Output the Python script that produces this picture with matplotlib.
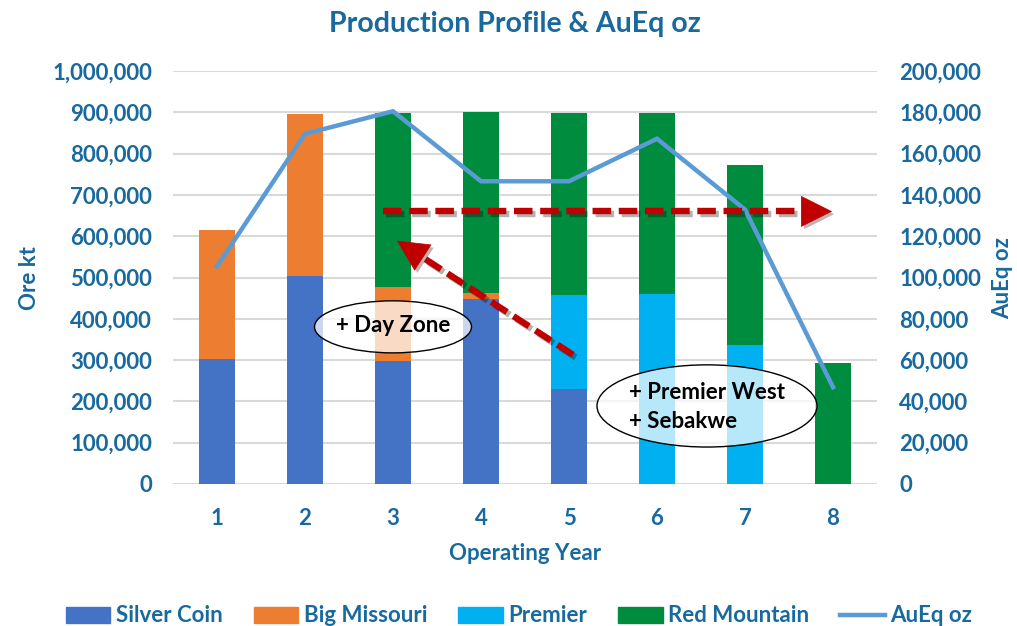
import matplotlib
matplotlib.use("Agg")
import matplotlib.pyplot as plt
from matplotlib.patches import Ellipse, Patch
from matplotlib.lines import Line2D
from matplotlib.ticker import FuncFormatter
import matplotlib.patheffects as pe
import numpy as np

plt.rcParams['font.family'] = ['Lato', 'DejaVu Sans']
plt.rcParams['font.weight'] = 'bold'

years = [1, 2, 3, 4, 5, 6, 7, 8]
silver_coin = [303000, 503000, 298000, 449000, 230000, 0, 0, 0]
big_missouri = [312000, 392000, 179000, 13000, 0, 0, 0, 0]
premier = [0, 0, 0, 0, 228000, 461000, 337000, 0]
red_mountain = [0, 0, 422000, 439000, 440000, 437000, 436000, 293000]
aueq_oz = [105400, 169600, 180500, 146600, 146600, 167200, 132900, 46900]

C_SC = '#4472C4'
C_BM = '#ED7D31'
C_PR = '#00B0F0'
C_RM = '#008C3E'
C_LINE = '#5B9BD5'
C_TXT = '#17699E'
C_RED = '#C00000'

fig = plt.figure(figsize=(10.17, 6.26), dpi=100)
ax = fig.add_axes([173/1017, 1-484/626, (877-173)/1017, (484-71)/626])
ax2 = ax.twinx()

w = 0.4
b1 = silver_coin
b2 = [a + b for a, b in zip(b1, big_missouri)]
b3 = [a + b for a, b in zip(b2, premier)]
ax.bar(years, silver_coin, w, color=C_SC, zorder=3)
ax.bar(years, big_missouri, w, bottom=b1, color=C_BM, zorder=3)
ax.bar(years, premier, w, bottom=b2, color=C_PR, zorder=3)
ax.bar(years, red_mountain, w, bottom=b3, color=C_RM, zorder=3)

ax.set_xlim(0.5, 8.5)
ax.set_ylim(0, 1000000)
ax.set_yticks(range(0, 1000001, 100000))
ax.yaxis.set_major_formatter(FuncFormatter(lambda v, p: f"{int(v):,}"))
ax.set_xticks(years)
ax.grid(axis='y', color='#D9D9D9', lw=1.5, zorder=0)
ax.set_axisbelow(True)
for s in ax.spines.values():
    s.set_visible(False)
for s in ax2.spines.values():
    s.set_visible(False)
ax.tick_params(axis='y', length=0, pad=15, labelsize=16, labelcolor=C_TXT)
ax.tick_params(axis='x', length=0, pad=17, labelsize=16, labelcolor=C_TXT)

ax2.plot(years, aueq_oz, color=C_LINE, lw=3.2, zorder=4, solid_joinstyle='miter')
ax2.set_ylim(0, 200000)
ax2.set_yticks(range(0, 200001, 20000))
ax2.yaxis.set_major_formatter(FuncFormatter(lambda v, p: f"{int(v):,}"))
ax2.tick_params(axis='y', length=0, pad=16, labelsize=16, labelcolor=C_TXT)


def dashed_arrow(start, tip, head_px=30):
    T = ax2.transData
    ps = T.transform(start)
    pt = T.transform(tip)
    d = pt - ps
    d = d / np.hypot(*d)
    pb = pt - d * head_px
    base = T.inverted().transform(pb)
    ax2.plot([start[0], base[0]], [start[1], base[1]], color=C_RED, lw=4.6,
             dashes=(2.9, 1.2), solid_capstyle='butt', dash_capstyle='butt',
             zorder=6,
             path_effects=[pe.SimpleLineShadow(offset=(2, -2), alpha=0.3),
                           pe.Normal()])
    a = ax2.annotate('', xy=tip, xytext=base,
                     arrowprops=dict(arrowstyle='-|>,head_length=21.6,head_width=10.8',
                                     mutation_scale=1, lw=0.5, color=C_RED,
                                     shrinkA=0, shrinkB=0), zorder=6)
    a.arrow_patch.set_path_effects([pe.SimplePatchShadow(offset=(2, -2), alpha=0.3),
                                    pe.Normal()])


dashed_arrow((2.886, 132000), (7.99, 132000))
dashed_arrow((5.045, 62600), (3.045, 117800))

e1 = Ellipse((3.0, 76100), 1.784, 25200, facecolor=(1, 1, 1, 0.72),
             edgecolor='black', lw=1.0, zorder=7)
ax2.add_patch(e1)
ax2.text(3.0, 76800, '+ Day Zone', ha='center', va='center', fontsize=16,
         color='black', zorder=8)
e2 = Ellipse((6.568, 37800), 2.5, 39800, facecolor=(1, 1, 1, 0.72),
             edgecolor='black', lw=1.0, zorder=7)
ax2.add_patch(e2)
ax2.text(5.68, 44300, '+ Premier West', ha='left', va='center', fontsize=16,
         color='black', zorder=8)
ax2.text(5.68, 30500, '+ Sebakwe', ha='left', va='center', fontsize=16,
         color='black', zorder=8)

fig.text(515/1017, 1-24/626, 'Production Profile & AuEq oz', ha='center',
         va='center', fontsize=20.5, color=C_TXT)
fig.text(30/1017, 1-278/626, 'Ore kt', rotation=90, ha='center', va='center',
         fontsize=16, color=C_TXT)
fig.text(1003/1017, 1-278/626, 'AuEq oz', rotation=90, ha='center', va='center',
         fontsize=16, color=C_TXT)
fig.text(525/1017, 1-553/626, 'Operating Year', ha='center', va='center',
         fontsize=16, color=C_TXT)

handles = [Patch(color=C_SC), Patch(color=C_BM), Patch(color=C_PR),
           Patch(color=C_RM), Line2D([], [], color=C_LINE, lw=3.2)]
labels = ['Silver Coin', 'Big Missouri', 'Premier', 'Red Mountain', 'AuEq oz']
leg = fig.legend(handles, labels, loc='center', ncol=5,
                 bbox_to_anchor=(519/1017, 1-616/626), frameon=False,
                 fontsize=16, handlelength=2.0, handleheight=0.7,
                 handletextpad=0.25, columnspacing=1.4)
for t in leg.get_texts():
    t.set_color(C_TXT)

fig.savefig('out.png', dpi=100)
